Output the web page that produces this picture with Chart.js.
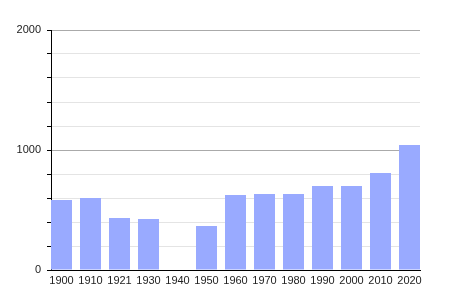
<!DOCTYPE html>
<html>
<head>
<meta charset="utf-8">
<script src="https://cdn.jsdelivr.net/npm/chart.js@4.4.0/dist/chart.umd.min.js"></script>
<style>
  body { margin: 0; background: #fff; }
</style>
</head>
<body>
<canvas id="chart" width="450" height="300"></canvas>
<script>
// census years and population
const years = ['1900', '1910', '1921', '1930', '1940', '1950', '1960', '1970', '1980', '1990', '2000', '2010', '2020'];
const population = [583, 600, 433, 425, null, 367, 625, 633, 633, 700, 700, 808, 1042];
const yLabels = [0, 1000, 2000];

const ctx = document.getElementById('chart').getContext('2d');
const chart = new Chart(ctx, {
  type: 'bar',
  data: {
    datasets: [{
      data: population.map((v, i) => ({ x: i, y: v })),
      backgroundColor: '#99aaff',
      borderWidth: 0,
      barPercentage: 0.724,
      categoryPercentage: 1.0
    }]
  },
  options: {
    responsive: false,
    animation: false,
    layout: { padding: { top: 30, right: 30, left: 0, bottom: 0 } },
    plugins: { legend: { display: false }, tooltip: { enabled: false } },
    scales: {
      x: {
        type: 'linear',
        offset: false,
        min: -0.362,
        max: 12.362,
        afterBuildTicks: scale => { scale.ticks = years.map((_, i) => ({ value: i })); },
        afterFit: scale => { scale.height = 30; },
        grid: { display: false, drawTicks: false, offset: false },
        border: { display: true, color: '#000', width: 1 },
        ticks: {
          autoSkip: false,
          maxRotation: 0,
          padding: 4,
          color: '#222',
          font: { family: 'Liberation Sans, Arial, sans-serif', size: 11 },
          callback: v => years[v]
        }
      },
      y: {
        min: 0,
        max: 2000,
        afterFit: scale => { scale.width = 51; },
        border: { display: true, color: '#000', width: 1 },
        grid: {
          color: c => (c.tick.value % 1000 === 0 ? '#aaaaaa' : '#e4e4e4'),
          tickColor: '#000',
          tickLength: 4
        },
        ticks: {
          stepSize: 200,
          padding: 6,
          color: '#222',
          font: { family: 'Liberation Sans, Arial, sans-serif', size: 11 },
          callback: v => (yLabels.includes(v) ? v : '')
        }
      }
    }
  }
});
</script>
</body>
</html>
